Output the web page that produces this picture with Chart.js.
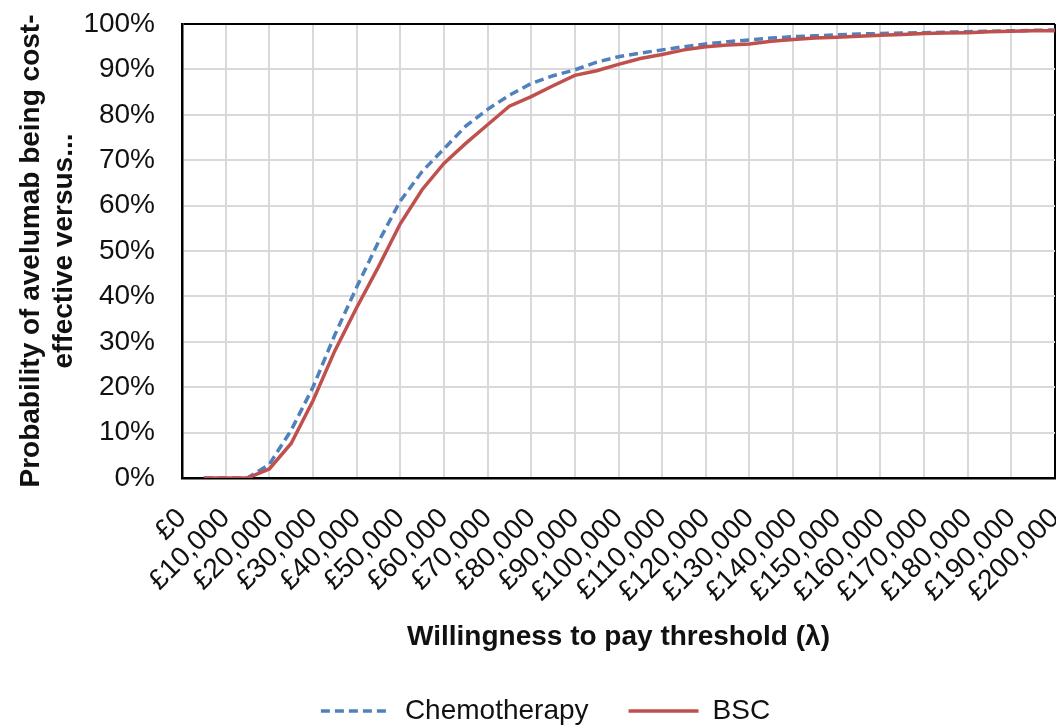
<!DOCTYPE html>
<html>
<head>
<meta charset="utf-8">
<script src="https://cdn.jsdelivr.net/npm/chart.js@4"></script>
<style>
  html, body { margin: 0; padding: 0; background: #fff; }
  #wrap { width: 1056px; height: 726px; }
</style>
</head>
<body>
<div id="wrap"><canvas id="chartCanvas" width="1056" height="726"></canvas></div>
<script>
// ==========================================
// Data
// ==========================================
const wtp = [5000, 10000, 15000, 20000, 25000, 30000, 35000, 40000, 45000, 50000,
             55000, 60000, 65000, 70000, 75000, 80000, 85000, 90000, 95000, 100000,
             105000, 110000, 115000, 120000, 125000, 130000, 135000, 140000, 145000, 150000,
             155000, 160000, 165000, 170000, 175000, 180000, 185000, 190000, 195000, 200000];

const chemo = [0, 0, 0, 3, 10.5, 20, 31.5, 42, 52, 61,
               67.5, 72.5, 77.5, 81.2, 84.3, 86.9, 88.6, 89.9, 91.6, 92.8,
               93.6, 94.3, 95, 95.6, 96.1, 96.5, 96.9, 97.2, 97.4, 97.6,
               97.8, 97.9, 98, 98.1, 98.2, 98.3, 98.4, 98.5, 98.6, 98.7];

const bsc = [0, 0, 0, 2, 7.6, 17, 28, 37.5, 46.5, 56,
             63.5, 69.3, 73.7, 77.8, 81.9, 84, 86.4, 88.7, 89.7, 91.1,
             92.4, 93.3, 94.3, 95, 95.4, 95.6, 96.2, 96.6, 96.9, 97.1,
             97.3, 97.5, 97.7, 97.9, 98, 98.1, 98.3, 98.4, 98.5, 98.5];

const xMin = 0, xMax = 200000, xStep = 10000;
const yMin = 0, yMax = 100, yStep = 10;

const FONT = "'Liberation Sans', Arial, sans-serif";
const GRID = "#d9d9d9";
const PAD_LEFT = 36; // nudges the centred legend to the right

function pounds(v) {
    return "£" + String(v).replace(/\B(?=(\d{3})+(?!\d))/g, ",");
}

// =====================================================
// Chart
// =====================================================
const ctx = document.getElementById("chartCanvas").getContext("2d");

new Chart(ctx, {
    type: "line",
    data: {
        datasets: [
            {
                label: "Chemotherapy",
                data: wtp.map((x, i) => ({ x: x, y: chemo[i] })),
                borderColor: "#4f81bd",
                backgroundColor: "#4f81bd",
                borderWidth: 3.5,
                borderDash: [9, 5],
                pointRadius: 0,
                tension: 0,
                order: 1
            },
            {
                label: "BSC",
                data: wtp.map((x, i) => ({ x: x, y: bsc[i] })),
                borderColor: "#c0504d",
                backgroundColor: "#c0504d",
                borderWidth: 3.5,
                pointRadius: 0,
                tension: 0,
                order: 0
            }
        ]
    },
    options: {
        responsive: false,
        animation: false,
        layout: { padding: { top: 24, right: 1, bottom: -9, left: PAD_LEFT } },
        plugins: {
            tooltip: { enabled: false },
            legend: {
                position: "bottom",
                labels: {
                    usePointStyle: true,
                    pointStyle: "line",
                    pointStyleWidth: 70,
                    padding: 40,
                    color: "#111",
                    font: { family: FONT, size: 28 },
                    sort: (a, b) => a.datasetIndex - b.datasetIndex,
                    generateLabels: chart => {
                        const items = Chart.defaults.plugins.legend.labels.generateLabels(chart);
                        items.forEach(it => {
                            const ds = chart.data.datasets[it.datasetIndex];
                            it.lineDash = ds.borderDash || [];
                            it.lineWidth = ds.borderWidth;
                            it.strokeStyle = ds.borderColor;
                        });
                        return items;
                    }
                }
            }
        },
        scales: {
            x: {
                type: "linear",
                min: xMin,
                max: xMax,
                border: { color: "#000", width: 2.5 },
                grid: {
                    drawTicks: false,
                    lineWidth: 2,
                    color: c => (c.tick && c.tick.value === xMax ? "#000" : GRID)
                },
                ticks: {
                    stepSize: xStep,
                    autoSkip: false,
                    minRotation: 45,
                    maxRotation: 45,
                    padding: 24,
                    color: "#111",
                    font: { family: FONT, size: 28 },
                    callback: v => pounds(v)
                },
                title: {
                    display: true,
                    text: "Willingness to pay threshold (λ)",
                    color: "#111",
                    font: { family: FONT, size: 28, weight: "bold" },
                    padding: { top: 0, bottom: 3 }
                },
                afterFit: s => { s.height = 179; s.paddingRight = 0; }
            },
            y: {
                min: yMin,
                max: yMax,
                border: { color: "#000", width: 2.5 },
                grid: {
                    drawTicks: false,
                    lineWidth: 2,
                    color: c => (c.tick && c.tick.value === yMax ? "#000" : GRID)
                },
                ticks: {
                    stepSize: yStep,
                    padding: 27,
                    color: "#111",
                    font: { family: FONT, size: 28 },
                    callback: v => v + "%"
                },
                title: {
                    display: true,
                    text: ["Probability of avelumab being cost-", "effective versus..."],
                    color: "#111",
                    font: { family: FONT, size: 28, weight: "bold" },
                    padding: { top: 14 - PAD_LEFT, bottom: 0 }
                },
                afterFit: s => {
                    s.width = 182 - PAD_LEFT;
                    s.paddingTop = 0;
                    s.paddingBottom = 0;
                }
            }
        }
    }
});
</script>
</body>
</html>
